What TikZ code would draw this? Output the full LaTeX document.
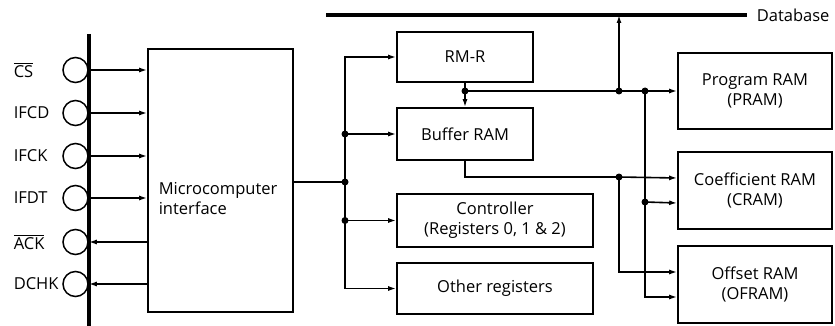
\documentclass[tikz,border=0pt]{standalone}
\usepackage{amsmath}
\usepackage{fontspec}
\setmainfont{Open Sans}
\usepackage{tikz}
\usetikzlibrary{calc}
\usetikzlibrary{arrows.meta}
\tikzset{>={Latex[length=8pt,width=5pt]}}
\tikzset{
  lbl/.style={inner sep=0pt,font=\fontsize{16.5}{20}\selectfont},
  box/.style={lbl,draw,rectangle,line width=1.6pt,align=center},
  pin/.style={draw,circle,line width=1.5pt,minimum size=25pt,inner sep=0pt},
  dot/.style={circle,fill,inner sep=0pt,minimum size=7pt},
  bus/.style={line width=4pt}
}

\begin{document}
\begin{tikzpicture}[x=1pt,y=-1pt,line width=1.6pt]
      \useasboundingbox (0,0) rectangle (835,326);

      % data bus
      \coordinate (busL) at (326,15);
      \coordinate (busR) at (747,15);
      \draw [bus] (busL) -- (busR);
      \node [lbl,anchor=west] (dbus) at (756,15) {Database};

      % pin bar and microcomputer interface
      \coordinate (barT) at (89,34);
      \coordinate (barB) at (89,326);
      \draw [bus] (barT) -- (barB);

      \node [box,minimum width=145pt,minimum height=263pt] (micro) at (220.5,180.5) {};
      \node [lbl,anchor=west,align=left] (microtxt) at (158,199) {Microcomputer\\interface};

      \node [pin] (cs) at (75.5,70) {};
      \node [lbl,anchor=west] (cslbl) at (13,70) {$\overline{\text{CS}}$};
      \draw [->] (cs.east) -- (cs.east -| micro.west);

      \node [pin] (ifcd) at (75.5,113) {};
      \node [lbl,anchor=west] (ifcdlbl) at (13,113) {IFCD};
      \draw [->] (ifcd.east) -- (ifcd.east -| micro.west);

      \node [pin] (ifck) at (75.5,156) {};
      \node [lbl,anchor=west] (ifcklbl) at (13,156) {IFCK};
      \draw [->] (ifck.east) -- (ifck.east -| micro.west);

      \node [pin] (ifdt) at (75.5,198) {};
      \node [lbl,anchor=west] (ifdtlbl) at (13,198) {IFDT};
      \draw [->] (ifdt.east) -- (ifdt.east -| micro.west);

      \node [pin] (ack) at (75.5,242) {};
      \node [lbl,anchor=west] (acklbl) at (13,242) {$\overline{\text{ACK}}$};
      \draw [->] (ack.east -| micro.west) -- (ack.east);

      \node [pin] (dchk) at (75.5,284) {};
      \node [lbl,anchor=west] (dchklbl) at (13,284) {DCHK};
      \draw [->] (dchk.east -| micro.west) -- (dchk.east);

      % registers and RAMs
      \node [box,minimum width=136pt,minimum height=50pt] (rmr) at (465,57) {RM-R};
      \node [box,minimum width=136pt,minimum height=52pt] (buf) at (465,134) {Buffer RAM};
      \node [box,minimum width=196pt,minimum height=53pt] (ctrl) at (495,220.5)
        {Controller\\(Registers 0, 1 \& 2)};
      \node [box,minimum width=196pt,minimum height=51pt] (other) at (495,288.5) {Other registers};

      \node [box,minimum width=154pt,minimum height=76pt] (pram) at (755,91) {Program RAM\\(PRAM)};
      \node [box,minimum width=154pt,minimum height=77pt] (cram) at (755,190.5) {Coefficient RAM\\(CRAM)};
      \node [box,minimum width=154pt,minimum height=77pt] (ofram) at (755,284.5) {Offset RAM\\(OFRAM)};

      % internal bus from the interface
      \node [dot] (j0) at (345,182) {};
      \node [dot] (j1) at (345,134) {};
      \node [dot] (j2) at (345,220.5) {};

      \draw (micro.east |- j0) -- (j0.center);
      \draw [->] (j0.center) |- (rmr.west);
      \draw [->] (j0.center) |- (other.west);
      \draw [->] (j1.center) -- (buf.west);
      \draw [->] (j2.center) -- (ctrl.west);

      % RAM connections
      \node [dot] (k0) at (465,91) {};
      \node [dot] (k1) at (619,91) {};
      \node [dot] (k2) at (645,91) {};
      \node [dot] (k3) at (619,177) {};
      \node [dot] (k4) at (645,202) {};

      \draw (rmr.south) -- (k0.center);
      \draw [->] (k0.center) -- (buf.north);
      \draw [->] (k0.center) -- (pram.west);
      \draw [->] (k1.center) -- (k1 |- busL);
      \draw [->] (buf.south) |- (k3.center) -- ([yshift=12.5pt]cram.west);
      \draw [->] (k3.center) |- ([yshift=12.5pt]ofram.west);
      \draw [->] (k2.center) |- ([yshift=-12.5pt]ofram.west);
      \draw [->] (k4.center) -- ([yshift=-12.5pt]cram.west);
\end{tikzpicture}
\end{document}
